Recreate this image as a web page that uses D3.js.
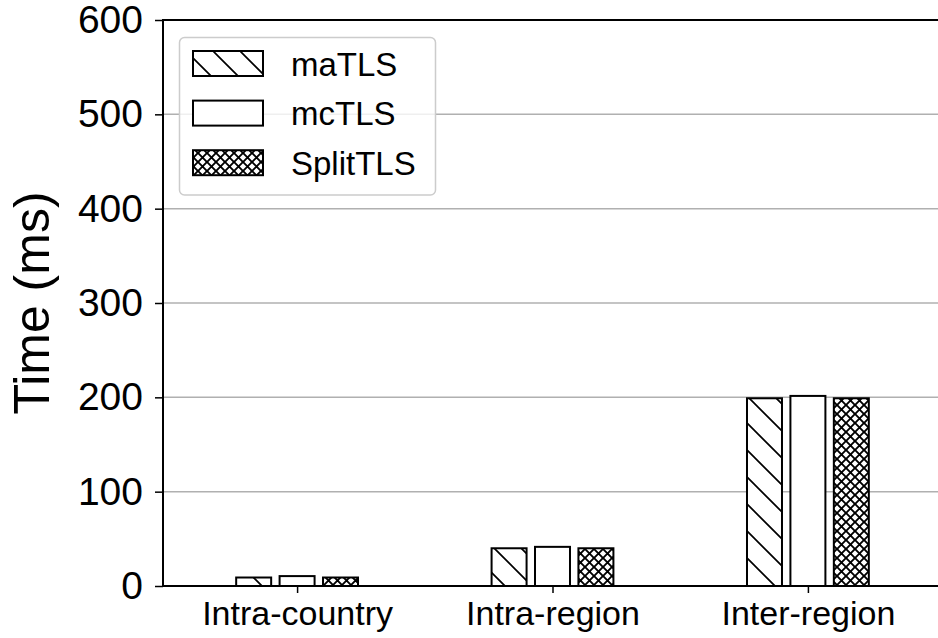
<!DOCTYPE html>
<html>
<head>
<meta charset="utf-8">
<script src="https://cdn.jsdelivr.net/npm/d3@7"></script>
<style>
  body { margin: 0; background: #fff; }
  svg { display: block; font-family: "Liberation Sans", Arial, sans-serif; }
</style>
</head>
<body>
<svg width="938" height="638"></svg>
<script>
// data
const categories = ['Intra-country', 'Intra-region', 'Inter-region'];
const seriesNames = ['maTLS', 'mcTLS', 'SplitTLS'];
const maTLS = [9, 40, 199];
const mcTLS = [10.5, 41.5, 201.5];
const splitTLS = [9, 40, 199];
const yTicks = [0, 100, 200, 300, 400, 500, 600];

const svg = d3.select('svg');
const plotL = 163, plotR = 942, plotT = 20, plotB = 586;

const x = d3.scaleLinear().domain([-0.525, categories.length - 0.475]).range([plotL, plotR]);
const y = d3.scaleLinear().domain([0, 600]).range([plotB, plotT]);

const offset = 0.17;
const barW = 0.137;
const fills = ['url(#diag)', '#fff', 'url(#cross)'];

// hatch patterns
const defs = svg.append('defs');
const diag = defs.append('pattern').attr('id', 'diag')
  .attr('patternUnits', 'userSpaceOnUse').attr('width', 27).attr('height', 27);
diag.append('rect').attr('width', 27).attr('height', 27).attr('fill', '#fff');
diag.append('path').attr('d', 'M-3,-3L30,30M-30,-3L3,30M24,-3L57,30')
  .attr('stroke', '#000').attr('stroke-width', 1.7);

const cross = defs.append('pattern').attr('id', 'cross')
  .attr('patternUnits', 'userSpaceOnUse').attr('width', 9).attr('height', 9);
cross.append('rect').attr('width', 9).attr('height', 9).attr('fill', '#fff');
cross.append('path').attr('d', 'M-1,-1L10,10M-1,10L10,-1')
  .attr('stroke', '#000').attr('stroke-width', 1.9);

// grid
svg.append('g').selectAll('line').data(yTicks.slice(1)).enter().append('line')
  .attr('x1', plotL).attr('x2', plotR)
  .attr('y1', d => y(d)).attr('y2', d => y(d))
  .attr('stroke', '#b0b0b0').attr('stroke-width', 1.5);

// bars
const series = [maTLS, mcTLS, splitTLS];
series.forEach((vals, s) => {
  svg.append('g').selectAll('rect').data(vals).enter().append('rect')
    .attr('x', (d, i) => x(i + (s - 1) * offset - barW / 2))
    .attr('width', x(barW) - x(0))
    .attr('y', d => y(d))
    .attr('height', d => y(0) - y(d))
    .attr('fill', fills[s])
    .attr('stroke', '#000').attr('stroke-width', 2);
});

// axes
const yAxis = svg.append('g').attr('transform', `translate(${plotL},0)`)
  .call(d3.axisLeft(y).tickValues(yTicks).tickSize(8).tickPadding(12));
yAxis.select('.domain').remove();
yAxis.selectAll('line').attr('stroke-width', 1.5);
yAxis.selectAll('text').attr('font-size', 39).attr('fill', '#000')
  .attr('font-family', '"Liberation Sans", Arial, sans-serif');

const xAxis = svg.append('g').attr('transform', `translate(0,${plotB})`)
  .call(d3.axisBottom(x).tickValues(d3.range(categories.length))
    .tickFormat(i => categories[i]).tickSize(7).tickPadding(8));
xAxis.select('.domain').remove();
xAxis.selectAll('line').attr('stroke-width', 1.5);
xAxis.selectAll('text').attr('font-size', 34).attr('fill', '#000')
  .attr('font-family', '"Liberation Sans", Arial, sans-serif');

// spines
svg.append('path')
  .attr('d', `M${plotR},${plotT}H${plotL}V${plotB}H${plotR}`)
  .attr('fill', 'none').attr('stroke', '#000').attr('stroke-width', 2);

// y label
svg.append('text')
  .attr('transform', `translate(49,303) rotate(-90)`)
  .attr('text-anchor', 'middle')
  .attr('font-size', 50)
  .text('Time (ms)');

// legend
const lg = svg.append('g');
lg.append('rect').attr('x', 179.5).attr('y', 37.5).attr('width', 256).attr('height', 157.5)
  .attr('rx', 5).attr('fill', '#fff').attr('fill-opacity', 0.8)
  .attr('stroke', '#ccc').attr('stroke-width', 1.5);
seriesNames.forEach((name, i) => {
  const ry = 51 + i * 49.6;
  lg.append('rect').attr('x', 193).attr('y', ry).attr('width', 70).attr('height', 25)
    .attr('fill', fills[i]).attr('stroke', '#000').attr('stroke-width', 2);
  lg.append('text').attr('x', 291).attr('y', ry + 12.5 + 12)
    .attr('font-size', 33).text(name);
});
</script>
</body>
</html>
